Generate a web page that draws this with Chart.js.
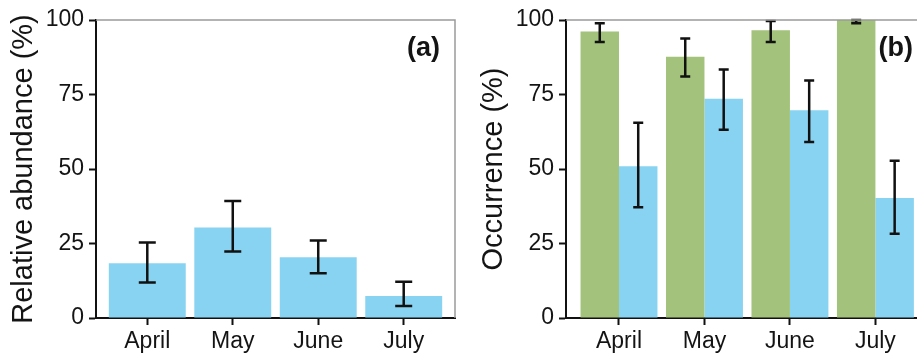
<!DOCTYPE html>
<html>
<head>
<meta charset="utf-8">
<script src="https://cdn.jsdelivr.net/npm/chart.js@4.4.1/dist/chart.umd.min.js"></script>
<style>
  html, body { margin: 0; padding: 0; background: #fff; }
  body { width: 917px; height: 356px; overflow: hidden; position: relative; }
  canvas { position: absolute; top: 0; }
  #panelA { left: 0; }
  #panelB { left: 470px; }
</style>
</head>
<body>
<canvas id="panelA" width="460" height="356"></canvas>
<canvas id="panelB" width="460" height="356"></canvas>
<script>
// Data
const months = ['April', 'May', 'June', 'July'];
const yTicks = [0, 25, 50, 75, 100];

// (a) relative abundance
const abundance = [18.4, 30.4, 20.4, 7.4];
const abundanceLo = [11.9, 22.3, 15.0, 4.0];
const abundanceHi = [25.3, 39.3, 26.0, 12.2];

// (b) occurrence, green and blue series
const occGreen = [96.1, 87.7, 96.6, 100];
const occGreenLo = [92.6, 81.0, 92.6, 98.9];
const occGreenHi = [98.9, 93.8, 99.7, 100];
const occBlue = [50.9, 73.6, 69.7, 40.3];
const occBlueLo = [37.2, 63.2, 59.1, 28.3];
const occBlueHi = [65.5, 83.4, 79.7, 52.8];

const BLUE = '#88d3f1';
const GREEN = '#a3c27b';
const TEXT = '#141414';
const FONT = 'Liberation Sans, Arial, sans-serif';

function points(values) {
    return values.map((v, i) => ({ x: i + 1, y: v }));
}

// error bars drawn through the y scale
const errorBars = {
    id: 'errorBars',
    afterDatasetsDraw(chart, args, opts) {
        const ctx = chart.ctx;
        const y = chart.scales.y;
        ctx.save();
        ctx.strokeStyle = '#111';
        ctx.lineWidth = 2.5;
        chart.data.datasets.forEach((ds, di) => {
            const meta = chart.getDatasetMeta(di);
            meta.data.forEach((bar, i) => {
                const x = bar.x;
                const yLo = y.getPixelForValue(ds.errLo[i]);
                const yHi = y.getPixelForValue(ds.errHi[i]);
                const half = opts.cap / 2;
                ctx.beginPath();
                ctx.moveTo(x, yLo);
                ctx.lineTo(x, yHi);
                ctx.moveTo(x - half, yLo);
                ctx.lineTo(x + half, yLo);
                ctx.moveTo(x - half, yHi);
                ctx.lineTo(x + half, yHi);
                ctx.stroke();
            });
        });
        ctx.restore();
    }
};

// grey top/right frame plus panel tag
const frame = {
    id: 'frame',
    afterDraw(chart, args, opts) {
        const { top, right, left } = chart.chartArea;
        const ctx = chart.ctx;
        ctx.save();
        ctx.strokeStyle = '#9a9a9a';
        ctx.lineWidth = 1.5;
        ctx.beginPath();
        ctx.moveTo(left, top);
        ctx.lineTo(right, top);
        ctx.lineTo(right, chart.chartArea.bottom);
        ctx.stroke();
        ctx.fillStyle = TEXT;
        ctx.font = 'bold 27px ' + FONT;
        ctx.textAlign = 'right';
        ctx.textBaseline = 'middle';
        ctx.fillText(opts.tag, right - opts.inset, top + 29);
        ctx.restore();
    }
};

function makePanel(id, datasets, yTitle, tag, cap, xMin, inset) {
    const axisGrid = {
        drawOnChartArea: false,
        drawTicks: true,
        tickLength: 7,
        tickColor: '#111',
        tickWidth: 2,
        offset: false
    };
    return new Chart(document.getElementById(id), {
        type: 'bar',
        data: { datasets: datasets },
        plugins: [errorBars, frame],
        options: {
            responsive: false,
            animation: false,
            layout: { padding: { top: 20, right: 5, left: 0, bottom: 0 } },
            plugins: {
                legend: { display: false },
                tooltip: { enabled: false },
                errorBars: { cap: cap },
                frame: { tag: tag, inset: inset }
            },
            scales: {
                x: {
                    type: 'linear',
                    min: xMin,
                    max: xMin + 4.2,
                    offset: false,
                    afterBuildTicks: s => { s.ticks = months.map((m, i) => ({ value: i + 1 })); },
                    afterFit: s => { s.height = 38; },
                    grid: axisGrid,
                    border: { color: '#111', width: 2 },
                    ticks: {
                        color: TEXT,
                        padding: 3,
                        font: { family: FONT, size: 23 },
                        callback: v => months[v - 1]
                    }
                },
                y: {
                    min: 0,
                    max: 100,
                    afterBuildTicks: s => { s.ticks = yTicks.map(v => ({ value: v })); },
                    afterFit: s => { s.width = 96; },
                    grid: axisGrid,
                    border: { color: '#111', width: 2 },
                    ticks: {
                        color: TEXT,
                        padding: 5,
                        font: { family: FONT, size: 23 }
                    },
                    title: {
                        display: true,
                        text: yTitle,
                        color: TEXT,
                        font: { family: FONT, size: 29, lineHeight: 1 },
                        padding: { top: 9, bottom: 0 }
                    }
                }
            }
        }
    });
}

makePanel('panelA', [{
    data: points(abundance),
    errLo: abundanceLo,
    errHi: abundanceHi,
    backgroundColor: BLUE,
    borderWidth: 0,
    categoryPercentage: 0.9,
    barPercentage: 1
}], 'Relative abundance (%)', '(a)', 17, 0.4, 15);

makePanel('panelB', [{
    data: points(occGreen),
    errLo: occGreenLo,
    errHi: occGreenHi,
    backgroundColor: GREEN,
    borderWidth: 0,
    categoryPercentage: 0.9,
    barPercentage: 1
}, {
    data: points(occBlue),
    errLo: occBlueLo,
    errHi: occBlueHi,
    backgroundColor: BLUE,
    borderWidth: 0,
    categoryPercentage: 0.9,
    barPercentage: 1
}], 'Occurrence (%)', '(b)', 10, 0.38, 12);
</script>
</body>
</html>
